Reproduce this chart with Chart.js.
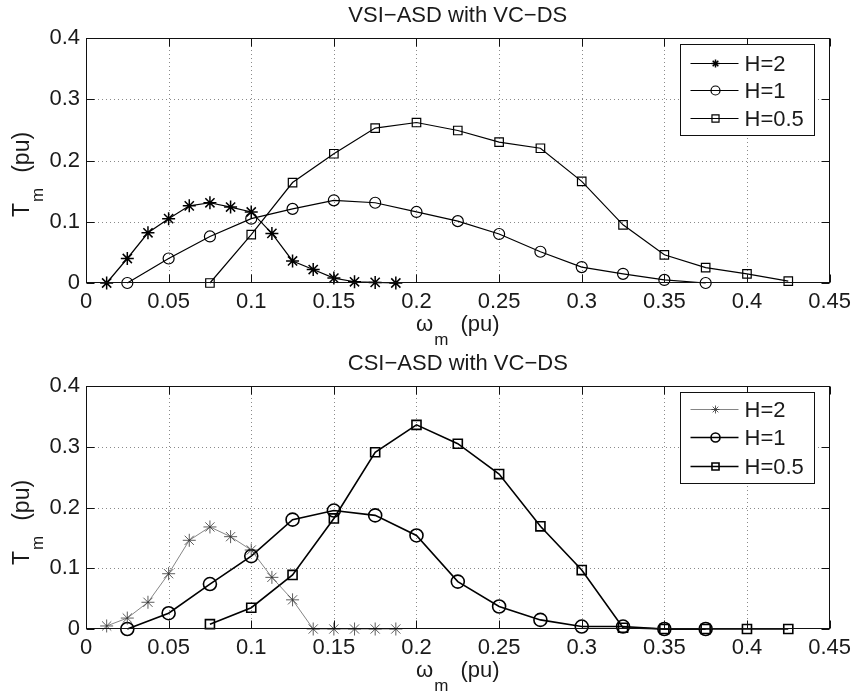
<!DOCTYPE html>
<html><head><meta charset="utf-8">
<script src="https://cdn.jsdelivr.net/npm/chart.js@4.4.1/dist/chart.umd.min.js"></script>
<style>
html,body{margin:0;padding:0;background:#fff;width:857px;height:693px;overflow:hidden}
.wrap{position:absolute;left:0;width:857px}
#w1{top:0;height:346px}
#w2{top:346px;height:347px}
canvas{display:block}
</style></head><body>
<div id="w1" class="wrap"><canvas id="c1" width="857" height="346"></canvas></div>
<div id="w2" class="wrap"><canvas id="c2" width="857" height="347"></canvas></div>
<script>
// ---------- data ----------
const seriesLabels = ['H=2', 'H=1', 'H=0.5'];
const titles = ['VSI\u2212ASD with VC\u2212DS', 'CSI\u2212ASD with VC\u2212DS'];

const xH2  = [0.0125,0.025,0.0375,0.05,0.0625,0.075,0.0875,0.1,0.1125,0.125,0.1375,0.15,0.1625,0.175,0.1875];
const xH1  = [0.025,0.05,0.075,0.1,0.125,0.15,0.175,0.2,0.225,0.25,0.275,0.3,0.325,0.35,0.375];
const xH05 = [0.075,0.1,0.125,0.15,0.175,0.2,0.225,0.25,0.275,0.3,0.325,0.35,0.375,0.4,0.425];

const vsiH2  = [0,0.040,0.082,0.105,0.126,0.131,0.124,0.116,0.081,0.036,0.022,0.008,0.002,0.001,0];
const vsiH1  = [0,0.040,0.076,0.105,0.121,0.135,0.131,0.116,0.101,0.080,0.051,0.026,0.015,0.005,0];
const vsiH05 = [0,0.079,0.164,0.211,0.253,0.262,0.249,0.230,0.220,0.166,0.095,0.046,0.025,0.015,0.003];

const csiH2  = [0.005,0.018,0.044,0.091,0.146,0.168,0.152,0.130,0.085,0.048,0,0,0,0,0];
const csiH1  = [0,0.026,0.074,0.120,0.180,0.195,0.187,0.154,0.078,0.037,0.015,0.004,0.004,0,0];
const csiH05 = [0.008,0.035,0.089,0.182,0.291,0.336,0.305,0.255,0.169,0.097,0.002,0,0,0,0];

const xTicks = [0,0.05,0.1,0.15,0.2,0.25,0.3,0.35,0.4,0.45];
const xTickLabels = ['0','0.05','0.1','0.15','0.2','0.25','0.3','0.35','0.4','0.45'];
const yTicks = [0,0.1,0.2,0.3,0.4];
const yTickLabels = ['0','0.1','0.2','0.3','0.4'];

// ---------- helpers ----------
const FONT = '"Liberation Sans", Arial, Helvetica, sans-serif';
const TXT = '#1a1a1a';
function pts(xs, ys){ return xs.map((x,i)=>({x:x, y:ys[i]})); }

function drawMarker(ctx, style, x, y, r){
  ctx.beginPath();
  if (style === 'circle') { ctx.arc(x, y, r, 0, Math.PI*2); }
  else if (style === 'rect') { const s = r*Math.SQRT1_2; ctx.rect(x-s, y-s, 2*s, 2*s); }
  else if (style === 'star') {
    ctx.moveTo(x-r,y); ctx.lineTo(x+r,y); ctx.moveTo(x,y-r); ctx.lineTo(x,y+r);
    const d = r*Math.SQRT1_2;
    ctx.moveTo(x-d,y-d); ctx.lineTo(x+d,y+d); ctx.moveTo(x-d,y+d); ctx.lineTo(x+d,y-d);
  }
  ctx.stroke();
}

function makeDecor(title, legendRows){
  return {
    id: 'decor',
    beforeDatasetsDraw(chart){
      const {ctx, chartArea:a, scales:{x, y}} = chart;
      ctx.save();
      ctx.strokeStyle = '#8a8a8a'; ctx.lineWidth = 1; ctx.setLineDash([1,3]);
      xTicks.forEach(v => {
        if (v <= xTicks[0] || v >= xTicks[xTicks.length-1]) return;
        const px = Math.round(x.getPixelForValue(v)) + 0.5;
        ctx.beginPath(); ctx.moveTo(px, a.top); ctx.lineTo(px, a.bottom); ctx.stroke();
      });
      yTicks.forEach(v => {
        if (v <= yTicks[0] || v >= yTicks[yTicks.length-1]) return;
        const py = Math.round(y.getPixelForValue(v)) + 0.5;
        ctx.beginPath(); ctx.moveTo(a.left, py); ctx.lineTo(a.right, py); ctx.stroke();
      });
      ctx.restore();
    },
    afterDraw(chart){
      const {ctx, chartArea:a, scales:{x, y}} = chart;
      ctx.save();
      // frame
      ctx.setLineDash([]);
      ctx.strokeStyle = '#111'; ctx.lineWidth = 1;
      const L = Math.round(a.left)+0.5, R = Math.round(a.right)-0.5, T = Math.round(a.top)+0.5, B = Math.round(a.bottom)-0.5;
      ctx.strokeRect(L, T, R-L, B-T);
      // inner tick marks
      const tl = 8;
      ctx.beginPath();
      xTicks.forEach(v => {
        const px = Math.round(x.getPixelForValue(v)) + 0.5;
        ctx.moveTo(px, B); ctx.lineTo(px, B - tl);
        ctx.moveTo(px, T); ctx.lineTo(px, T + tl);
      });
      yTicks.forEach(v => {
        const py = Math.round(y.getPixelForValue(v)) + 0.5;
        ctx.moveTo(L, py); ctx.lineTo(L + tl, py);
        ctx.moveTo(R, py); ctx.lineTo(R - tl, py);
      });
      ctx.stroke();

      ctx.fillStyle = TXT;
      // title
      ctx.font = '22px ' + FONT;
      ctx.textAlign = 'center'; ctx.textBaseline = 'alphabetic';
      ctx.fillText(title, (a.left + a.right)/2, a.top - 16);

      // x label: omega_m (pu)
      const mainF = '22px ' + FONT, subF = '17px ' + FONT;
      ctx.font = mainF; const wOm = ctx.measureText('\u03C9').width;
      ctx.font = subF; const wM = ctx.measureText('m').width;
      ctx.font = mainF; const wPu = ctx.measureText('(pu)').width;
      const gap = 13;
      const totX = wOm + wM + gap + wPu;
      let sx = (a.left + a.right)/2 - totX/2;
      const bx = a.bottom + 48;
      ctx.textAlign = 'left';
      ctx.font = mainF; ctx.fillText('\u03C9', sx, bx);
      ctx.font = subF; ctx.fillText('m', sx + wOm + 1, bx + 14);
      ctx.font = mainF; ctx.fillText('(pu)', sx + wOm + wM + gap, bx);

      // y label: T_m (pu), rotated
      const yMainF = '23px ' + FONT, ySubF = '17px ' + FONT;
      ctx.font = yMainF; const wT = ctx.measureText('T').width; const wPu2 = ctx.measureText('(pu)').width;
      ctx.font = ySubF; const wM2 = ctx.measureText('m').width;
      const gap2 = 16;
      ctx.translate(29, a.top + 179);
      ctx.rotate(-Math.PI/2);
      ctx.font = yMainF; ctx.fillText('T', 0, 0);
      ctx.font = ySubF; ctx.fillText('m', wT + 1, 14);
      ctx.font = yMainF; ctx.fillText('(pu)', wT + wM2 + gap2, 0);
      ctx.setTransform(1,0,0,1,0,0);

      // legend
      const bl = Math.round(a.right) - 150 + 0.5, br = Math.round(a.right) - 16 + 0.5;
      const bt = Math.round(a.top) + 6 + 0.5, bb = bt + 91;
      ctx.fillStyle = '#fff';
      ctx.fillRect(bl, bt, br - bl, bb - bt);
      ctx.strokeStyle = '#111'; ctx.lineWidth = 1;
      ctx.strokeRect(bl, bt, br - bl, bb - bt);
      chart.data.datasets.forEach((ds, i) => {
        const ry = bt + legendRows[i];
        ctx.strokeStyle = ds.borderColor; ctx.lineWidth = ds.borderWidth;
        ctx.beginPath(); ctx.moveTo(bl + 10, ry); ctx.lineTo(bl + 58, ry); ctx.stroke();
        ctx.lineWidth = ds.pointBorderWidth;
        drawMarker(ctx, ds.pointStyle, bl + 35, ry, ds.legendR);
        ctx.fillStyle = TXT; ctx.font = '22px ' + FONT;
        ctx.textAlign = 'left'; ctx.textBaseline = 'middle';
        ctx.fillText(ds.label, bl + 64, ry + 1);
      });
      ctx.restore();
    }
  };
}

function ds(label, xs, ys, style, r, lw, pw, color, legendR){
  return {
    label: label, data: pts(xs, ys),
    borderColor: color, borderWidth: lw,
    pointStyle: style, pointRadius: r, pointHoverRadius: r,
    pointBorderColor: color, pointBackgroundColor: 'rgba(0,0,0,0)', pointBorderWidth: pw,
    tension: 0, clip: false, legendR: legendR
  };
}

function makeChart(id, datasets, title, padTop, xAxisH, legendRows){
  return new Chart(document.getElementById(id), {
    type: 'line',
    data: { datasets: datasets },
    options: {
      responsive: false, animation: false,
      events: [],
      layout: { padding: { top: padTop, right: 22, left: 0, bottom: 0 } },
      plugins: { legend: { display: false }, title: { display: false }, tooltip: { enabled: false } },
      scales: {
        x: {
          type: 'linear', min: 0, max: 0.45,
          afterBuildTicks: s => { s.ticks = xTicks.map(v => ({ value: v })); },
          afterFit: s => { s.height = xAxisH; },
          grid: { display: false, drawTicks: false },
          border: { display: false },
          ticks: { padding: 6, color: TXT, font: { family: FONT, size: 22 }, maxRotation: 0, autoSkip: false,
                   callback: (v, i) => xTickLabels[i] }
        },
        y: {
          type: 'linear', min: 0, max: 0.4,
          afterBuildTicks: s => { s.ticks = yTicks.map(v => ({ value: v })); },
          afterFit: s => { s.width = 86; },
          grid: { display: false, drawTicks: false },
          border: { display: false },
          ticks: { padding: 6, color: TXT, font: { family: FONT, size: 22 }, autoSkip: false,
                   callback: (v, i) => yTickLabels[i] }
        }
      }
    },
    plugins: [makeDecor(title, legendRows)]
  });
}

makeChart('c1', [
  ds(seriesLabels[0], xH2,  vsiH2,  'star',   6.5, 1.2, 1.5, '#000', 4),
  ds(seriesLabels[1], xH1,  vsiH1,  'circle', 5.5, 1.2, 1.2, '#000', 4.5),
  ds(seriesLabels[2], xH05, vsiH05, 'rect',   6,   1.2, 1.2, '#000', 5)
], titles[0], 38, 63, [19, 46, 74]);

makeChart('c2', [
  ds(seriesLabels[0], xH2,  csiH2,  'star',   6.5, 0.6, 0.8, '#333', 4),
  ds(seriesLabels[1], xH1,  csiH1,  'circle', 6.5, 1.6, 1.6, '#000', 4.5),
  ds(seriesLabels[2], xH05, csiH05, 'rect',   6.4, 1.6, 1.6, '#000', 5)
], titles[1], 40, 64, [17, 45, 74]);
</script>
</body></html>
